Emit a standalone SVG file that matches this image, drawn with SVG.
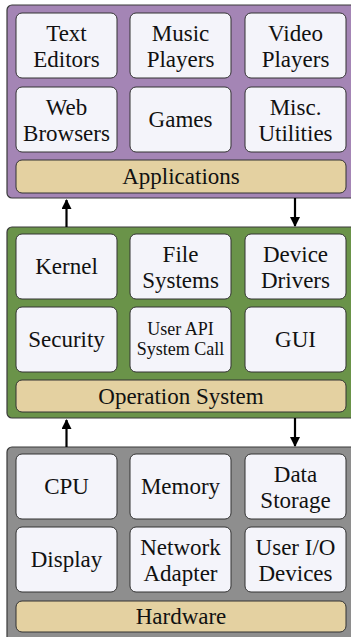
<svg xmlns="http://www.w3.org/2000/svg" width="351" height="637" viewBox="0 0 351 637">
<defs>
<style>
.layer{stroke:#3a3a3a;stroke-width:1.2}
.app{fill:#A485B5}
.os{fill:#6A9349}
.hw{fill:#8E8E8E}
.cell{fill:#F4F4FA;stroke:#333;stroke-width:1}
.bar{fill:#E4D1A1;stroke:#333;stroke-width:1}
text{font-family:'Liberation Serif','Times New Roman',serif;font-size:23px;fill:#111;text-anchor:middle}
.sm{font-size:18px}
.conn{stroke:#000;stroke-width:2.2;fill:none}
</style>
<marker id="ah" viewBox="0 0 10 12" refX="9" refY="5" markerWidth="10" markerHeight="12" markerUnits="userSpaceOnUse" orient="auto">
<path d="M0,0 L10,5 L0,10 z" fill="#000"/>
</marker>
</defs>

<g id="applications">
<rect class="layer app" x="7" y="5" width="352" height="193" rx="5"/>
<g id="text-editors"><rect class="cell" x="16" y="13" width="101" height="65" rx="6"/><text x="66.5" y="40.5">Text</text><text x="66.5" y="66.5">Editors</text></g>
<g id="music-players"><rect class="cell" x="130" y="13" width="101" height="65" rx="6"/><text x="180.5" y="40.5">Music</text><text x="180.5" y="66.5">Players</text></g>
<g id="video-players"><rect class="cell" x="245" y="13" width="101" height="65" rx="6"/><text x="295.5" y="40.5">Video</text><text x="295.5" y="66.5">Players</text></g>
<g id="web-browsers"><rect class="cell" x="16" y="87" width="101" height="65" rx="6"/><text x="66.5" y="114.5">Web</text><text x="66.5" y="140.5">Browsers</text></g>
<g id="games"><rect class="cell" x="130" y="87" width="101" height="65" rx="6"/><text x="180.5" y="127">Games</text></g>
<g id="misc-utilities"><rect class="cell" x="245" y="87" width="101" height="65" rx="6"/><text x="295.5" y="114.5">Misc.</text><text x="295.5" y="140.5">Utilities</text></g>
<g id="applications-bar"><rect class="bar" x="16" y="160" width="330" height="33" rx="6"/><text x="181" y="184">Applications</text></g>
</g>

<g id="operating-system">
<rect class="layer os" x="7" y="227" width="352" height="191" rx="5"/>
<g id="kernel"><rect class="cell" x="16" y="234" width="101" height="65" rx="6"/><text x="66.5" y="274">Kernel</text></g>
<g id="file-systems"><rect class="cell" x="130" y="234" width="101" height="65" rx="6"/><text x="180.5" y="261.5">File</text><text x="180.5" y="287.5">Systems</text></g>
<g id="device-drivers"><rect class="cell" x="245" y="234" width="101" height="65" rx="6"/><text x="295.5" y="261.5">Device</text><text x="295.5" y="287.5">Drivers</text></g>
<g id="security"><rect class="cell" x="16" y="307" width="101" height="65" rx="6"/><text x="66.5" y="347">Security</text></g>
<g id="user-api"><rect class="cell" x="130" y="307" width="101" height="65" rx="6"/><text class="sm" x="180.5" y="334.5">User API</text><text class="sm" x="180.5" y="354.5">System Call</text></g>
<g id="gui"><rect class="cell" x="245" y="307" width="101" height="65" rx="6"/><text x="295.5" y="347">GUI</text></g>
<g id="os-bar"><rect class="bar" x="16" y="380" width="330" height="32" rx="6"/><text x="181" y="403.5">Operation System</text></g>
</g>

<g id="hardware">
<rect class="layer hw" x="7" y="447" width="352" height="195" rx="5"/>
<g id="cpu"><rect class="cell" x="16" y="454" width="101" height="65" rx="6"/><text x="66.5" y="494">CPU</text></g>
<g id="memory"><rect class="cell" x="130" y="454" width="101" height="65" rx="6"/><text x="180.5" y="494">Memory</text></g>
<g id="data-storage"><rect class="cell" x="245" y="454" width="101" height="65" rx="6"/><text x="295.5" y="481.5">Data</text><text x="295.5" y="507.5">Storage</text></g>
<g id="display"><rect class="cell" x="16" y="527" width="101" height="65" rx="6"/><text x="66.5" y="567">Display</text></g>
<g id="network-adapter"><rect class="cell" x="130" y="527" width="101" height="65" rx="6"/><text x="180.5" y="554.5">Network</text><text x="180.5" y="580.5">Adapter</text></g>
<g id="user-io"><rect class="cell" x="245" y="527" width="101" height="65" rx="6"/><text x="295.5" y="554.5">User I/O</text><text x="295.5" y="580.5">Devices</text></g>
<g id="hw-bar"><rect class="bar" x="16" y="601" width="330" height="31" rx="6"/><text x="181" y="623.5">Hardware</text></g>
</g>

<g id="connectors">
<line class="conn" x1="66.5" y1="227" x2="66.5" y2="200" marker-end="url(#ah)"/>
<line class="conn" x1="295" y1="198" x2="295" y2="226" marker-end="url(#ah)"/>
<line class="conn" x1="66.5" y1="447" x2="66.5" y2="420" marker-end="url(#ah)"/>
<line class="conn" x1="295" y1="418" x2="295" y2="446" marker-end="url(#ah)"/>
</g>
</svg>
